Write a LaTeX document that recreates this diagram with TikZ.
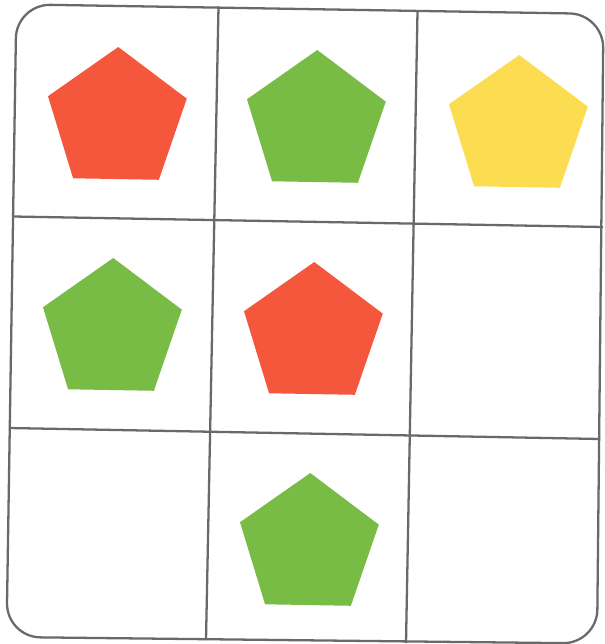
\documentclass[tikz,border=0pt]{standalone}
\usetikzlibrary{shapes.geometric}

\definecolor{pentred}{RGB}{245,87,61}
\definecolor{pentgreen}{RGB}{120,188,70}
\definecolor{pentyellow}{RGB}{252,221,82}
\definecolor{gridgray}{RGB}{105,105,105}

\begin{document}
\begin{tikzpicture}[
  x=0.02cm, y=-0.02cm,
  frame/.style={draw=gridgray, line width=1.3pt, rounded corners=0.68cm},
  gridline/.style={draw=gridgray, line width=1.3pt},
  pent/.style={regular polygon, regular polygon sides=5, minimum size=2.92cm,
               inner sep=0pt, outer sep=0pt, rotate=-1},
  redpent/.style={pent, fill=pentred},
  greenpent/.style={pent, fill=pentgreen},
  yellowpent/.style={pent, fill=pentyellow},
]
  \useasboundingbox (0,0) rectangle (604,644);

  % ---- Frame (scanned page, tilted by about one degree) ----
  \draw[frame] (16.4,4.3) -- (603.5,14) -- (597,643.5) -- (6.5,637) -- cycle;

  % ---- Inner grid lines ----
  \draw[gridline] (218.5,6.5) -- (206,640);    % column 1 | column 2
  \draw[gridline] (417.5,11) -- (406,643);     % column 2 | column 3
  \draw[gridline] (13,216.5) -- (603,227);     % row 1 / row 2
  \draw[gridline] (9,428) -- (600,439);        % row 2 / row 3

  % ---- Row 1 ----
  \node[redpent]    (p11) at (117,120) {};
  \node[greenpent]  (p12) at (316,123) {};
  \node[yellowpent] (p13) at (518,128) {};

  % ---- Row 2 ----
  \node[greenpent]  (p21) at (112,331) {};
  \node[redpent]    (p22) at (313,335) {};

  % ---- Row 3 ----
  \node[greenpent]  (p32) at (309,546) {};
\end{tikzpicture}
\end{document}
